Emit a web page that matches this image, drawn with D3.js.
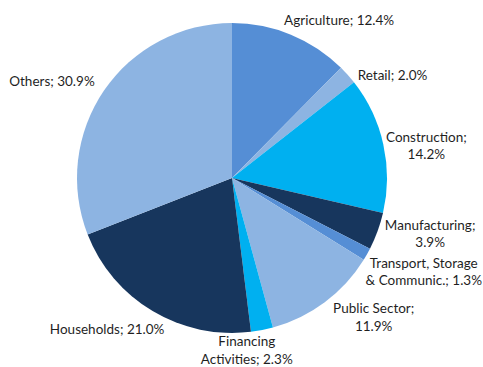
<!DOCTYPE html>
<html>
<head>
<meta charset="utf-8">
<script src="https://cdn.jsdelivr.net/npm/d3@7"></script>
<style>
  html, body { margin: 0; padding: 0; background: #ffffff; }
  svg { display: block; }
  text { font-family: Lato, "Open Sans", sans-serif; font-size: 13.5px; fill: #1f1f1f; }
</style>
</head>
<body>
<svg id="chart" width="483" height="367"></svg>
<script>
// Sector shares of lending (percent), clockwise from 12 o'clock
const sectors = ["Agriculture", "Retail", "Construction", "Manufacturing",
  "Transport, Storage & Communic.", "Public Sector", "Financing Activities",
  "Households", "Others"];
const shares = [12.4, 2.0, 14.2, 3.9, 1.3, 11.9, 2.3, 21.0, 30.9];
const sliceColors = ["#558ed5", "#8db4e2", "#00b0f0", "#17365d", "#558ed5",
  "#8db4e2", "#00b0f0", "#17365d", "#8db4e2"];
// label lines as printed beside each slice
const labelLines = [
  ["Agriculture; 12.4%"],
  ["Retail; 2.0%"],
  ["Construction;", "14.2%"],
  ["Manufacturing;", "3.9%"],
  ["Transport, Storage", "& Communic.; 1.3%"],
  ["Public Sector;", "11.9%"],
  ["Financing", "Activities; 2.3%"],
  ["Households; 21.0%"],
  ["Others; 30.9%"]
];
// small shifts so labels clear their neighbours
const labelShift = [[33, 23], [15, 27], [4, 10], [15, -11], [22, -2],
  [25, -17], [-23, -19], [-25, -16], [-19, 13]];

const cx = 232, cy = 178, radius = 155, labelRadius = 195, lineHeight = 17.5;

const data = sectors.map((s, i) => ({ sector: s, value: shares[i], i }));

const pie = d3.pie().value(d => d.value).sort(null);
const arc = d3.arc().innerRadius(0).outerRadius(radius);

const svg = d3.select("#chart");
const g = svg.append("g").attr("transform", `translate(${cx},${cy})`);

const arcs = pie(data);

g.selectAll("path.slice")
  .data(arcs)
  .join("path")
  .attr("class", "slice")
  .attr("d", arc)
  .attr("fill", d => sliceColors[d.data.i]);

const labels = g.selectAll("text.lbl")
  .data(arcs)
  .join("text")
  .attr("class", "lbl")
  .attr("text-anchor", "middle")
  .attr("transform", d => {
    const a = (d.startAngle + d.endAngle) / 2;
    const sh = labelShift[d.data.i];
    const x = labelRadius * Math.sin(a) + sh[0];
    const y = -labelRadius * Math.cos(a) + sh[1];
    return `translate(${x},${y})`;
  });

labels.each(function (d) {
  const lines = labelLines[d.data.i];
  const t = d3.select(this);
  const top = -(lines.length - 1) * lineHeight / 2;
  lines.forEach((ln, k) => {
    t.append("tspan")
      .attr("x", 0)
      .attr("y", top + k * lineHeight)
      .attr("dy", "0.35em")
      .text(ln);
  });
});
</script>
</body>
</html>
